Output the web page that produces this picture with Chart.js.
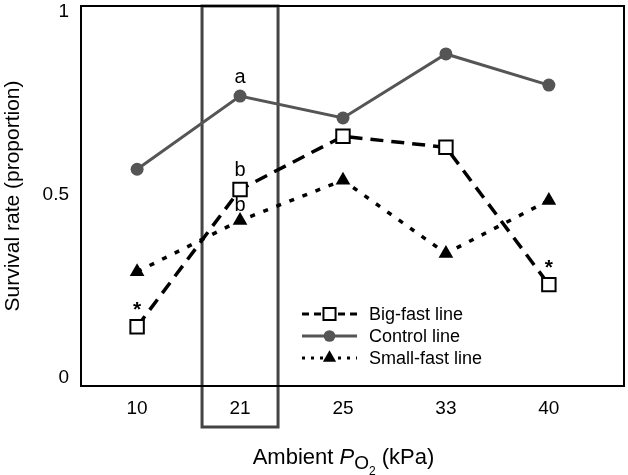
<!DOCTYPE html>
<html>
<head>
<meta charset="utf-8">
<script src="https://cdn.jsdelivr.net/npm/chart.js@4/dist/chart.umd.min.js"></script>
<style>
    html, body { margin: 0; padding: 0; background: #fff; }
    #wrap { width: 628px; height: 475px; }
</style>
</head>
<body>
<div id="wrap"><canvas id="chart" width="628" height="475"></canvas></div>
<script>
// Ambient PO2 levels (kPa)
const categories = ['10', '21', '25', '33', '40'];

// Survival rate (proportion) per line
const bigFast = [0.14, 0.515, 0.66, 0.63, 0.255];
const control = [0.57, 0.77, 0.71, 0.885, 0.80];
const smallFast = [0.29, 0.43, 0.54, 0.34, 0.485];

const yTicks = [0, 0.5, 1];
const yTickLabels = ['0', '0.5', '1'];

// letters / asterisks over single points: [dataset index, category index, text]
const marks = [
    [1, 1, 'a'],
    [0, 1, 'b'],
    [2, 1, 'b'],
    [0, 0, '*'],
    [0, 4, '*']
];

const FONT = '"Liberation Sans", Arial, sans-serif';

const toPoints = arr => arr.map((v, i) => ({ x: i, y: v }));

const datasets = [
    {
        label: 'Big-fast line',
        data: toPoints(bigFast),
        borderColor: '#000',
        borderWidth: 3.5,
        borderDash: [13, 8],
        pointStyle: 'rect',
        pointRadius: 9.5,
        pointBackgroundColor: '#fff',
        pointBorderColor: '#000',
        pointBorderWidth: 2,
        legendDash: [7, 5]
    },
    {
        label: 'Control line',
        data: toPoints(control),
        borderColor: '#555',
        borderWidth: 3,
        pointStyle: 'circle',
        pointRadius: 6.5,
        pointBackgroundColor: '#555',
        pointBorderColor: '#555',
        pointBorderWidth: 0,
        legendDash: []
    },
    {
        label: 'Small-fast line',
        data: toPoints(smallFast),
        borderColor: '#000',
        borderWidth: 3.5,
        borderDash: [5, 9],
        pointStyle: 'triangle',
        pointRadius: 8.5,
        pointBackgroundColor: '#000',
        pointBorderColor: '#000',
        pointBorderWidth: 0,
        legendDash: [3, 6]
    }
];

// no extra room for the edge tick labels
const noPad = scale => {
    scale.paddingTop = 0;
    scale.paddingBottom = 0;
    scale.paddingLeft = 0;
    scale.paddingRight = 0;
};

// box round the 21 kPa column, frame, legend, letters, x title
const decorations = {
    id: 'decorations',
    beforeDatasetsDraw(chart) {
        const { ctx, chartArea, scales } = chart;
        const cx = scales.x.getPixelForValue(1);
        ctx.save();
        ctx.strokeStyle = '#444';
        ctx.lineWidth = 3;
        ctx.strokeRect(cx - 38, chartArea.top, 76, 421);
        ctx.restore();
    },
    afterDatasetsDraw(chart) {
        const { ctx, chartArea } = chart;
        ctx.save();
        ctx.strokeStyle = '#000';
        ctx.lineWidth = 2;
        ctx.strokeRect(chartArea.left, chartArea.top,
            chartArea.right - chartArea.left, chartArea.bottom - chartArea.top);

        // letters over points
        ctx.fillStyle = '#000';
        ctx.textAlign = 'center';
        ctx.textBaseline = 'middle';
        marks.forEach(([d, i, txt]) => {
            const pt = chart.getDatasetMeta(d).data[i];
            ctx.font = (txt === '*' ? 'bold 21px ' : '20px ') + FONT;
            const off = txt === '*' ? 16 : (d === 2 ? 15 : 19);
            ctx.fillText(txt, pt.x, pt.y - off);
        });

        // legend
        const lx = chartArea.left + 221;
        const ly = [314, 336, 358];
        datasets.forEach((ds, k) => {
            const y = ly[k];
            ctx.save();
            ctx.strokeStyle = ds.borderColor;
            ctx.lineWidth = 3;
            ctx.setLineDash(ds.legendDash);
            ctx.beginPath();
            ctx.moveTo(lx, y);
            ctx.lineTo(lx + 55, y);
            ctx.stroke();
            ctx.restore();
            ctx.save();
            ctx.fillStyle = ds.pointBackgroundColor;
            ctx.strokeStyle = ds.pointBorderColor;
            Chart.helpers.drawPoint(ctx, {
                pointStyle: ds.pointStyle,
                radius: ds.pointRadius * 0.9,
                rotation: 0,
                borderWidth: ds.pointBorderWidth
            }, lx + 27.5, y);
            ctx.restore();
            ctx.fillStyle = '#000';
            ctx.font = '18px ' + FONT;
            ctx.textAlign = 'left';
            ctx.textBaseline = 'middle';
            ctx.fillText(ds.label, lx + 67, y + 1);
        });

        // x axis title: Ambient P_O2 (kPa)
        const parts = [
            { t: 'Ambient ', f: '22px ' + FONT, dy: 0 },
            { t: 'P', f: 'italic 22px ' + FONT, dy: 0 },
            { t: 'O', f: '19px ' + FONT, dy: 5 },
            { t: '2', f: '12px ' + FONT, dy: 11 },
            { t: ' (kPa)', f: '22px ' + FONT, dy: 0 }
        ];
        let total = 0;
        parts.forEach(p => { ctx.font = p.f; p.w = ctx.measureText(p.t).width; total += p.w; });
        let x = (chartArea.left + chartArea.right) / 2 - 9 - total / 2;
        const baseY = 464;
        ctx.textAlign = 'left';
        ctx.textBaseline = 'alphabetic';
        parts.forEach(p => {
            ctx.font = p.f;
            ctx.fillText(p.t, x, baseY + p.dy);
            x += p.w;
        });
        ctx.restore();
    }
};

new Chart(document.getElementById('chart'), {
    type: 'line',
    data: { datasets },
    options: {
        responsive: false,
        animation: false,
        layout: { autoPadding: false, padding: { top: 6, right: 4, left: 0, bottom: 0 } },
        plugins: {
            legend: { display: false },
            tooltip: { enabled: false }
        },
        scales: {
            x: {
                type: 'linear',
                min: -0.545,
                max: 4.73,
                afterBuildTicks(scale) {
                    scale.ticks = categories.map((c, i) => ({ value: i }));
                },
                afterFit(scale) { scale.height = 89; noPad(scale); },
                grid: { display: false, drawTicks: false },
                border: { display: false },
                ticks: {
                    padding: 11,
                    color: '#000',
                    font: { family: FONT, size: 19 },
                    maxRotation: 0,
                    callback: v => categories[v]
                }
            },
            y: {
                min: -0.022,
                max: 1.016,
                afterBuildTicks(scale) {
                    scale.ticks = yTicks.map(v => ({ value: v }));
                },
                afterFit(scale) { scale.width = 81; noPad(scale); },
                grid: { display: false, drawTicks: false },
                border: { display: false },
                ticks: {
                    padding: 12,
                    color: '#000',
                    font: { family: FONT, size: 19 },
                    callback: v => yTickLabels[yTicks.indexOf(v)]
                },
                title: {
                    display: true,
                    text: 'Survival rate (proportion)',
                    color: '#000',
                    font: { family: FONT, size: 21 },
                    padding: { top: 1, bottom: 0 }
                }
            }
        }
    },
    plugins: [decorations]
});
</script>
</body>
</html>
